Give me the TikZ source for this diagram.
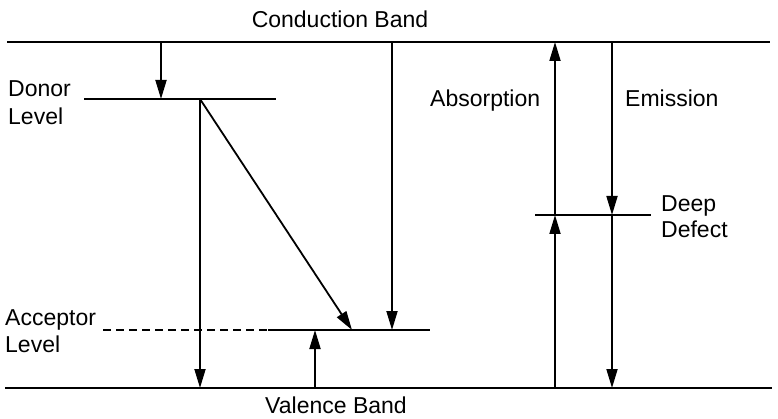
\documentclass[tikz,border=0pt]{standalone}
\usepackage{fontspec}
\setmainfont{Liberation Sans}
\usetikzlibrary{arrows.meta}
\begin{document}
\begin{tikzpicture}[x=1pt,y=-1pt,
  band/.style={line width=2pt},
  level/.style={line width=1.8pt},
  trans/.style={line width=1.8pt,-{Triangle[length=19pt,width=11pt]}},
  lbl/.style={font=\fontsize{23}{27}\selectfont,inner sep=0pt,align=left,anchor=base west},
  lblc/.style={font=\fontsize{23}{27}\selectfont,inner sep=0pt,anchor=base}]
\useasboundingbox (0,0) rectangle (778,419);
% bands
\coordinate (cbL) at (7,42);  \coordinate (cbR) at (770,42);
\coordinate (vbL) at (5,388); \coordinate (vbR) at (772,388);
\draw[band] (cbL) -- (cbR);
\draw[band] (vbL) -- (vbR);
% levels
\coordinate (dL) at (84,99); \coordinate (dR) at (276,99);
\draw[level] (dL) -- (dR);
\coordinate (aL) at (103,330); \coordinate (aM) at (268,330); \coordinate (aR) at (430,330);
\draw[level,dash pattern=on 8pt off 5pt] (aL) -- (aM);
\draw[level] (aM) -- (aR);
\coordinate (ddL) at (535,215); \coordinate (ddR) at (651,215);
\draw[level] (ddL) -- (ddR);
% transition points
\coordinate (c1) at (161,42); \coordinate (d1) at (161,99);
\coordinate (d2) at (200,99); \coordinate (v2) at (200,388);
\coordinate (a3) at (352,330);
\coordinate (c4) at (392,42); \coordinate (a4) at (392,330);
\coordinate (v5) at (315,388); \coordinate (a5) at (315,330);
\coordinate (v6) at (555,388); \coordinate (dd6) at (555,215); \coordinate (c6) at (555,42);
\coordinate (c7) at (612,42); \coordinate (dd7) at (612,215); \coordinate (v7) at (612,388);
\draw[trans] (c1) -- (d1);
\draw[trans] (d2) -- (v2);
\draw[trans] (d2) -- (a3);
\draw[trans] (c4) -- (a4);
\draw[trans] (v5) -- (a5);
\draw[trans] (v6) -- (dd6);
\draw[trans] (dd6) -- (c6);
\draw[trans] (c7) -- (dd7);
\draw[trans] (dd7) -- (v7);
% labels
\node[lblc] (tcb) at (340,28) {Conduction Band};
\node[lblc] (tvb) at (336,413) {Valence Band};
\node[lbl] (tdon) at (8,97) {Donor};
\node[lbl] (tdon2) at (8,125) {Level};
\node[lbl] (tacc) at (5,325) {Acceptor};
\node[lbl] (tacc2) at (5,352) {Level};
\node[lbl] (tabs) at (430,107) {Absorption};
\node[lbl] (tem) at (625,107) {Emission};
\node[lbl] (tdd) at (661,212) {Deep};
\node[lbl] (tdd2) at (661,238) {Defect};
\end{tikzpicture}
\end{document}
